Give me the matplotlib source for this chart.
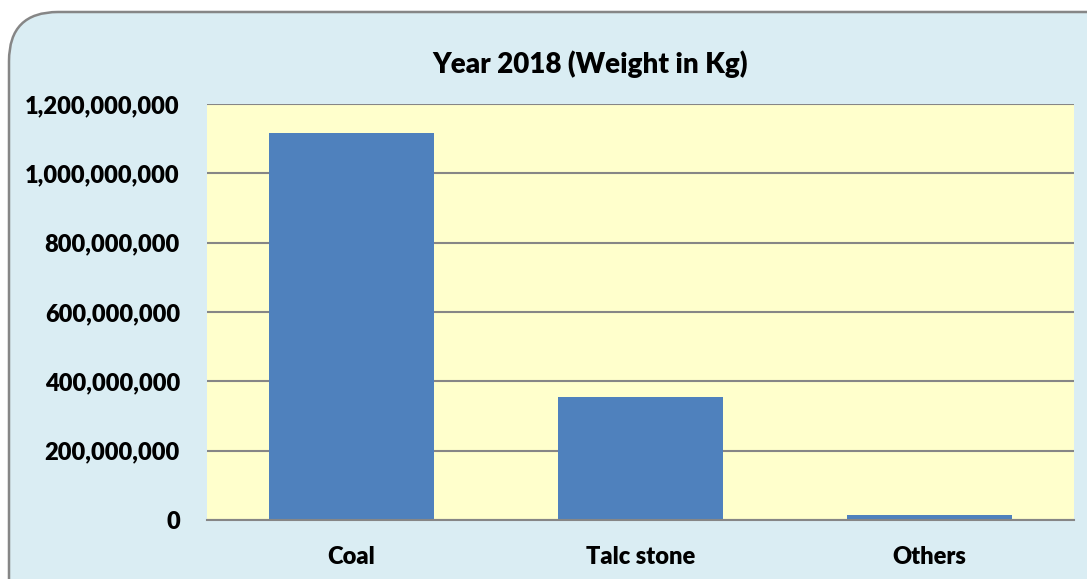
import matplotlib
matplotlib.use("Agg")
import matplotlib.pyplot as plt
from matplotlib.patches import FancyBboxPatch
from matplotlib.ticker import FuncFormatter

categories = ["Coal", "Talc stone", "Others"]
values = [1116000000, 355000000, 13500000]
yticks = [0, 200000000, 400000000, 600000000, 800000000, 1000000000, 1200000000]

plt.rcParams['font.family'] = ['Lato', 'DejaVu Sans']

W, H = 1087, 579
fig = plt.figure(figsize=(W/100, H/100), dpi=100)
fig.patch.set_facecolor('white')

# outer rounded box
box = FancyBboxPatch((9/W, -0.2), 1.2, 1 - 12/H + 0.2,
                     boxstyle="round,pad=0,rounding_size=0.045",
                     transform=fig.transFigure, facecolor='#DAEDF3', edgecolor='#868686',
                     linewidth=1.8, mutation_aspect=W/H, zorder=-5)
fig.patches.append(box)

left, right, top, bottom = 207, 1074, 104, 520
ax = fig.add_axes([left/W, 1 - bottom/H, (right-left)/W, (bottom-top)/H])
ax.set_zorder(5)
ax.set_facecolor('#FFFFCC')
x = list(range(len(categories)))
ax.bar(x, values, width=0.57, color='#4F81BD', zorder=3)
ax.set_xlim(-0.5, len(categories) - 0.5)
ax.set_ylim(0, 1200000000)
ax.set_yticks(yticks)
ax.yaxis.set_major_formatter(FuncFormatter(lambda v, p: f"{int(v):,}"))
ax.set_xticks(x)
ax.set_xticklabels(categories)
ax.grid(axis='y', color='#868686', linewidth=1.5, zorder=1)
ax.set_axisbelow(True)
for s in ['top', 'right', 'left']:
    ax.spines[s].set_visible(False)
ax.spines['bottom'].set_color('#868686')
ax.spines['bottom'].set_linewidth(1.5)
ax.spines['bottom'].set_zorder(4)
ax.tick_params(axis='both', length=0, labelsize=17)
ax.tick_params(axis='y', pad=19.5)
ax.tick_params(axis='x', pad=18.5)
for lab in ax.get_xticklabels() + ax.get_yticklabels():
    lab.set_fontweight('heavy')

fig.text(590/W, 1 - 64/H, "Year 2018 (Weight in Kg)", ha='center', va='center',
         fontsize=20, fontweight='heavy')

fig.savefig("out.png", dpi=100)
